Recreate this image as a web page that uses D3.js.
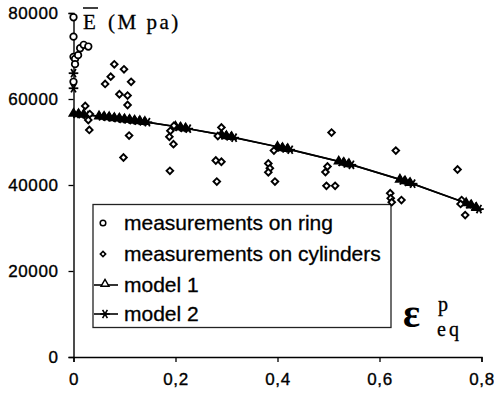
<!DOCTYPE html>
<html>
<head>
<meta charset="utf-8">
<script src="https://cdn.jsdelivr.net/npm/d3@7"></script>
<style>
    body { margin: 0; background: #fff; }
    svg { display: block; }
</style>
</head>
<body>
<div id="chart"></div>
<script>
// tick values
var xTicks = [0, 0.2, 0.4, 0.6, 0.8];
var yTicks = [0, 20000, 40000, 60000, 80000];

// measurements on ring (circles)
var ringX = [0, 0, 0, 0.003, 0.003, 0.009, 0.013, 0.02, 0.029, 0];
var ringY = [79000, 74500, 69800, 69300, 68100, 70200, 71800, 72600, 72200, 64000];

// measurements on cylinders (diamonds)
var cylX = [0.023, 0.032, 0.029, 0.031, 0.062, 0.073, 0.080, 0.090, 0.099, 0.106, 0.106, 0.113, 0.109, 0.098,
    0.197, 0.190, 0.188, 0.196, 0.189,
    0.290, 0.283, 0.279, 0.290, 0.281,
    0.393, 0.382, 0.385, 0.382, 0.395,
    0.506, 0.498, 0.494, 0.496, 0.513,
    0.632, 0.621, 0.622, 0.643, 0.624,
    0.753, 0.761, 0.759, 0.768];
var cylY = [58400, 56500, 55100, 52800, 63500, 65200, 68070, 61100, 66900, 60800, 58600, 64000, 51500, 46400,
    53800, 52600, 51200, 49500, 43300,
    53400, 51400, 45700, 45400, 40800,
    48000, 45000, 43900, 42950, 40800,
    52200, 44300, 43000, 39800, 39800,
    48000, 38100, 36900, 36500, 36000,
    43600, 36500, 35600, 33000];

// model 1 (triangles)
var model1X = [0, 0.01, 0.02, 0.05, 0.06, 0.07, 0.08, 0.09, 0.10, 0.11, 0.12, 0.13, 0.14,
    0.20, 0.21, 0.22, 0.29, 0.30, 0.31, 0.40, 0.41, 0.42, 0.52, 0.53, 0.54,
    0.64, 0.65, 0.66, 0.77, 0.78, 0.79];
var model1Y = [56600, 56500, 56400, 56000, 55900, 55800, 55600, 55500, 55300, 55200, 55000, 54900, 54700,
    53600, 53400, 53200, 51700, 51400, 51200, 48900, 48600, 48400, 45500, 45200, 44900,
    41300, 40900, 40500, 35800, 35300, 34700];

// model 2 (asterisks)
var model2X = [0.005, 0.015, 0.025, 0.055, 0.065, 0.075, 0.085, 0.095, 0.105, 0.115, 0.125, 0.135, 0.145,
    0.205, 0.215, 0.225, 0.295, 0.305, 0.315, 0.405, 0.415, 0.425, 0.525, 0.535, 0.545,
    0.645, 0.655, 0.665, 0.775, 0.785, 0.795];
var model2Y = [56550, 56450, 56300, 55950, 55850, 55700, 55550, 55400, 55250, 55100, 54950, 54800, 54600,
    53500, 53300, 53100, 51550, 51300, 51000, 48750, 48500, 48200, 45350, 45050, 44700,
    41100, 40700, 40300, 35550, 35000, 34400];
// model 2 on ring (asterisks at zero strain)
var model2RingX = [0, 0];
var model2RingY = [66000, 62500];

var legendLabels = ["measurements on ring", "measurements on cylinders", "model 1", "model 2"];

function zip(xs, ys) {
    return xs.map((x, i) => ({ x: x, y: ys[i] }));
}

const width = 494, height = 396;

const svg = d3.select("#chart")
    .append("svg")
    .attr("width", width)
    .attr("height", height);

const x = d3.scaleLinear().domain([0, 0.8]).range([73.5, 481.5]);
const y = d3.scaleLinear().domain([0, 80000]).range([357, 13]);

const sans = "'Liberation Sans', Arial, sans-serif";
const serif = "'Liberation Serif', 'Times New Roman', serif";

// axes
const yAxis = svg.append("g")
    .attr("transform", `translate(${x(0)},0)`)
    .call(d3.axisLeft(y).tickValues(yTicks).tickSize(5).tickPadding(10).tickFormat(d3.format("d")));

const xAxis = svg.append("g")
    .attr("transform", `translate(0,${y(0)})`)
    .call(d3.axisBottom(x).tickValues(xTicks).tickSize(5).tickPadding(11)
        .tickFormat(d => d === 0 ? "0" : d3.format(".1f")(d).replace(".", ",")));

[xAxis, yAxis].forEach(g => {
    g.select(".domain").attr("stroke", "#000").attr("stroke-width", 1.4);
    g.selectAll(".tick line").attr("stroke", "#000").attr("stroke-width", 1.3);
    g.selectAll(".tick text")
        .attr("fill", "#000")
        .attr("stroke", "#000")
        .attr("stroke-width", 0.35)
        .style("font-family", sans)
        .style("font-size", "17px")
        .style("letter-spacing", "0.6px");
});

// model lines
const line = d3.line().x(d => x(d.x)).y(d => y(d.y));

svg.append("path")
    .datum(zip(model1X, model1Y))
    .attr("fill", "none")
    .attr("stroke", "#000")
    .attr("stroke-width", 1.7)
    .attr("d", line);

svg.append("path")
    .datum(zip(model2X, model2Y))
    .attr("fill", "none")
    .attr("stroke", "#000")
    .attr("stroke-width", 1.5)
    .attr("d", line);

function asterisk(g, cx, cy, r, w) {
    [0, 60, 120].forEach(a => {
        const rad = a * Math.PI / 180;
        g.append("line")
            .attr("x1", cx - r * Math.cos(rad)).attr("y1", cy - r * Math.sin(rad))
            .attr("x2", cx + r * Math.cos(rad)).attr("y2", cy + r * Math.sin(rad))
            .attr("stroke", "#000").attr("stroke-width", w);
    });
}

const tri = d3.symbol().type(d3.symbolTriangle).size(32);

svg.append("g").selectAll("path")
    .data(zip(model1X, model1Y))
    .enter().append("path")
    .attr("transform", d => `translate(${x(d.x)},${y(d.y)})`)
    .attr("d", tri)
    .attr("fill", "#000")
    .attr("stroke", "#000")
    .attr("stroke-width", 1.5);

const starG = svg.append("g");
zip(model2X, model2Y).concat(zip(model2RingX, model2RingY)).forEach(d => {
    asterisk(starG, x(d.x), y(d.y), 4.8, 1.8);
});

// legend box
const lg = svg.append("g");
lg.append("rect")
    .attr("x", 93).attr("y", 204.5)
    .attr("width", 298).attr("height", 123)
    .attr("fill", "#fff")
    .attr("stroke", "#222")
    .attr("stroke-width", 1.3);

// measurement points
svg.append("g").selectAll("circle")
    .data(zip(ringX, ringY))
    .enter().append("circle")
    .attr("cx", d => x(d.x))
    .attr("cy", d => y(d.y))
    .attr("r", 3.3)
    .attr("fill", "#fff")
    .attr("stroke", "#000")
    .attr("stroke-width", 1.7);

svg.append("g").selectAll("path")
    .data(zip(cylX, cylY))
    .enter().append("path")
    .attr("transform", d => `translate(${x(d.x)},${y(d.y)}) rotate(45)`)
    .attr("d", d3.symbol().type(d3.symbolSquare).size(22))
    .attr("fill", "#fff")
    .attr("stroke", "#000")
    .attr("stroke-width", 1.9);

// legend entries
const rowY = [223, 254, 285, 314];
legendLabels.forEach((t, i) => {
    lg.append("text")
        .attr("x", 124)
        .attr("y", rowY[i])
        .attr("dy", "0.35em")
        .style("font-family", sans)
        .style("font-size", "21px")
        .attr("fill", "#000")
        .attr("stroke", "#000")
        .attr("stroke-width", 0.3)
        .text(t);
});
lg.append("circle")
    .attr("cx", 103).attr("cy", rowY[0]).attr("r", 2.8)
    .attr("fill", "#fff").attr("stroke", "#000").attr("stroke-width", 1.5);
lg.append("path")
    .attr("transform", `translate(103,${rowY[1]}) rotate(45)`)
    .attr("d", d3.symbol().type(d3.symbolSquare).size(14))
    .attr("fill", "#fff").attr("stroke", "#000").attr("stroke-width", 1.6);
[2, 3].forEach(i => {
    lg.append("line")
        .attr("x1", 94).attr("x2", 118)
        .attr("y1", rowY[i]).attr("y2", rowY[i])
        .attr("stroke", "#000").attr("stroke-width", 1.6);
});
lg.append("path")
    .attr("transform", `translate(105,${rowY[2] - 1})`)
    .attr("d", d3.symbol().type(d3.symbolTriangle).size(28))
    .attr("fill", "#fff").attr("stroke", "#000").attr("stroke-width", 1.4);
asterisk(lg, 105, rowY[3], 4.8, 1.6);

// axis titles
const yTitle = svg.append("text")
    .attr("x", 83)
    .attr("y", 29)
    .style("font-family", serif)
    .style("font-size", "21px")
    .attr("fill", "#000")
    .attr("stroke", "#000")
    .attr("stroke-width", 0.3);
yTitle.append("tspan").text("E");
yTitle.append("tspan").attr("x", 108).style("letter-spacing", "2.5px").text("(M pa)");
svg.append("line")
    .attr("x1", 83).attr("x2", 98)
    .attr("y1", 8).attr("y2", 8)
    .attr("stroke", "#000").attr("stroke-width", 1.5);

svg.append("text")
    .attr("x", 403)
    .attr("y", 327)
    .style("font-family", serif)
    .style("font-size", "40px")
    .style("font-weight", "bold")
    .attr("fill", "#000")
    .text("ε");
svg.append("text")
    .attr("x", 438)
    .attr("y", 311)
    .style("font-family", serif)
    .style("font-size", "20px")
    .attr("fill", "#000")
    .attr("stroke", "#000")
    .attr("stroke-width", 0.3)
    .text("p");
svg.append("text")
    .attr("x", 437)
    .attr("y", 336)
    .style("font-family", serif)
    .style("font-size", "20px")
    .style("letter-spacing", "3px")
    .attr("fill", "#000")
    .attr("stroke", "#000")
    .attr("stroke-width", 0.3)
    .text("eq");
</script>
</body>
</html>
